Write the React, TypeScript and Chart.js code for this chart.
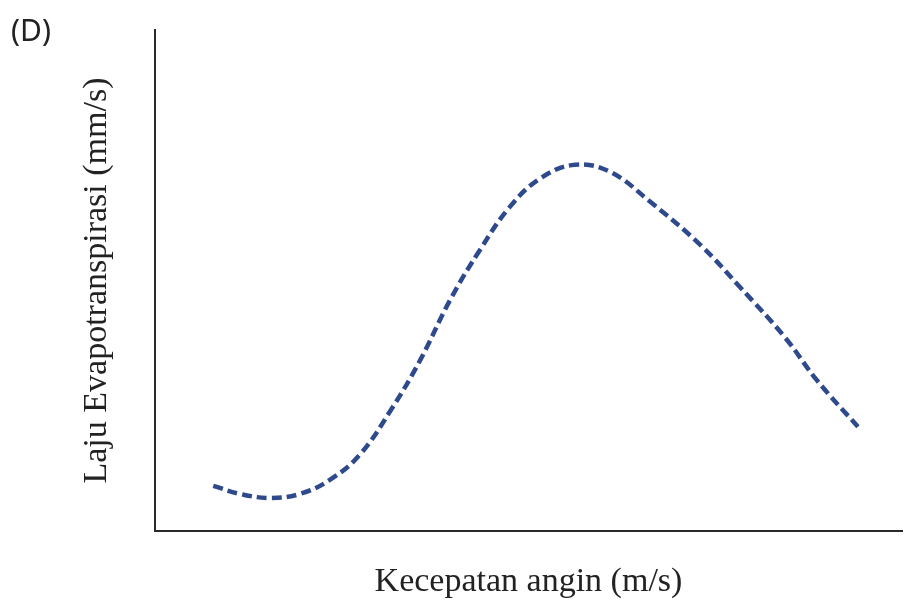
import React, { useEffect, useRef } from "react";
import { Chart, registerables } from "chart.js";

Chart.register(...registerables);

const panelLabel = "(D)";
const xTitle = "Kecepatan angin (m/s)";
const yTitle = "Laju Evapotranspirasi (mm/s)";

// wind speed (relative units, 0–100 along the axis)
const windSpeed = [7.8, 11.4, 15.4, 19.4, 23.4, 27.4, 31.6, 35.5, 39.5, 43.5, 47.5, 51.5, 56.2, 60.9, 66.3, 73.0, 78.3, 84.3, 88.6, 94.1];
// evapotranspiration rate (relative units, 0–100 along the axis)
const etRate = [9.0, 7.4, 6.6, 7.4, 10.2, 15.2, 24.2, 34.1, 46.1, 56.1, 64.7, 70.3, 73.1, 71.7, 65.7, 57.1, 48.7, 38.7, 30.1, 20.8];

const lineColor = "#2f4a8c";
const axisColor = "#2a2a2a";

export default function App() {
  const ref = useRef<HTMLCanvasElement | null>(null);

  useEffect(() => {
    if (!ref.current) return;
    const chart = new Chart(ref.current, {
      type: "line",
      data: {
        datasets: [
          {
            data: windSpeed.map((x, i) => ({ x, y: etRate[i] })),
            borderColor: lineColor,
            borderWidth: 4.5,
            borderDash: [10, 5],
            borderCapStyle: "butt",
            pointRadius: 0,
            tension: 0.4,
            fill: false,
          },
        ],
      },
      options: {
        responsive: false,
        animation: false,
        layout: { padding: { top: 30, right: 5, bottom: 0, left: 0 } },
        plugins: { legend: { display: false }, tooltip: { enabled: false }, title: { display: false } },
        scales: {
          x: {
            type: "linear",
            min: 0,
            max: 100,
            grid: { display: false, drawTicks: false },
            ticks: { display: false },
            border: { display: true, color: axisColor, width: 2 },
            title: {
              display: true,
              text: xTitle,
              color: "#222",
              font: { family: "'Liberation Serif', 'Times New Roman', serif", size: 34 },
              padding: { top: 30.6, bottom: 2.6 },
            },
          },
          y: {
            type: "linear",
            min: 0,
            max: 100,
            grid: { display: false, drawTicks: false },
            ticks: { display: false },
            border: { display: true, color: axisColor, width: 2 },
            title: {
              display: true,
              text: yTitle,
              color: "#222",
              font: { family: "'Liberation Serif', 'Times New Roman', serif", size: 34 },
              padding: { top: 76.6, bottom: 37.6 },
            },
          },
        },
      },
    });
    return () => chart.destroy();
  }, []);

  return (
    <div style={{ position: "absolute", left: 0, top: 0, width: 907, height: 605, background: "#fff" }}>
      <canvas ref={ref} width={907} height={605} style={{ display: "block" }} />
      <div
        style={{
          position: "absolute",
          left: 11,
          top: 13,
          fontFamily: "'Noto Sans', 'Open Sans', sans-serif",
          fontSize: 30,
          lineHeight: "34px",
          color: "#222",
        }}
      >
        {panelLabel}
      </div>
    </div>
  );
}
